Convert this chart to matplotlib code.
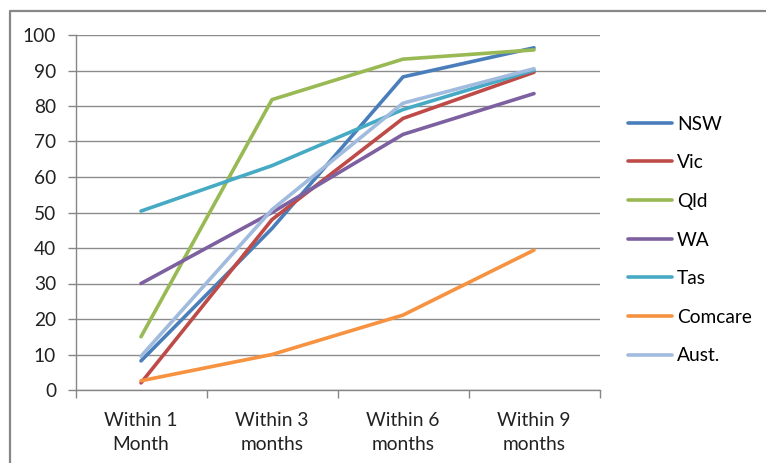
"""
Return-to-work rates by jurisdiction, line chart
"""

import matplotlib
matplotlib.use('Agg')
import matplotlib.pyplot as plt
from matplotlib.lines import Line2D

categories = ['Within 1\nMonth', 'Within 3\nmonths', 'Within 6\nmonths', 'Within 9\nmonths']

nsw = [8.2, 45.5, 88.2, 96.4]
vic = [2.0, 48.0, 76.5, 89.5]
qld = [15.0, 81.8, 93.2, 95.8]
wa = [30.0, 50.0, 72.0, 83.5]
tas = [50.4, 63.2, 79.0, 90.1]
comcare = [2.6, 10.0, 21.1, 39.4]
aust = [9.5, 50.8, 80.8, 90.5]

series = ['NSW', 'Vic', 'Qld', 'WA', 'Tas', 'Comcare', 'Aust.']
values = [nsw, vic, qld, wa, tas, comcare, aust]
colors = ['#4A7EBB', '#BE4B48', '#98B954', '#7D60A0', '#46AAC5', '#F69240', '#A0BBDE']

plt.rcParams['font.family'] = ['Lato', 'DejaVu Sans']
fs = 13.8

W, H = 766, 463
fig = plt.figure(figsize=(W / 100, H / 100), dpi=100)
ax = fig.add_axes([75.5 / W, 1 - 390 / H, (599.5 - 75.5) / W, 355 / H])

# Outer chart border: only top and left edges are in the picture
fig.lines.append(Line2D([10 / W, 10 / W, 765 / W], [0, 1 - 11 / H, 1 - 11 / H],
                        transform=fig.transFigure, color='#878787', linewidth=1.6))

x = list(range(len(categories)))
for name, vals, col in zip(series, values, colors):
    ax.plot(x, vals, color=col, linewidth=2.6, label=name, solid_capstyle='round')

ax.set_xlim(-0.5, len(categories) - 0.5)
ax.set_ylim(0, 100)
ax.set_yticks(range(0, 101, 10))
ax.set_xticks(x)
ax.set_xticklabels(categories, fontsize=fs, color='#222222', linespacing=1.5)
ax.tick_params(axis='x', length=0, pad=16)
ax.set_xticks([i - 0.5 for i in range(len(categories) + 1)], minor=True)
ax.tick_params(axis='x', which='minor', length=6, color='#868686', width=1)
ax.tick_params(axis='y', length=6, color='#868686', width=1, labelsize=fs,
               labelcolor='#222222', pad=8)

ax.grid(axis='y', color='#8c8c8c', linewidth=1)
ax.set_axisbelow(True)
for side in ['top', 'right']:
    ax.spines[side].set_visible(False)
for side in ['left', 'bottom']:
    ax.spines[side].set_color('#868686')
    ax.spines[side].set_linewidth(1)

ax.legend(loc='center left', bbox_to_anchor=(628 / W, 1 - 240 / H),
          bbox_transform=fig.transFigure, frameon=False, fontsize=fs,
          handlelength=2.3, handletextpad=0.25, labelspacing=1.13,
          borderpad=0, borderaxespad=0)

fig.savefig('out.png', dpi=100, facecolor='white')
